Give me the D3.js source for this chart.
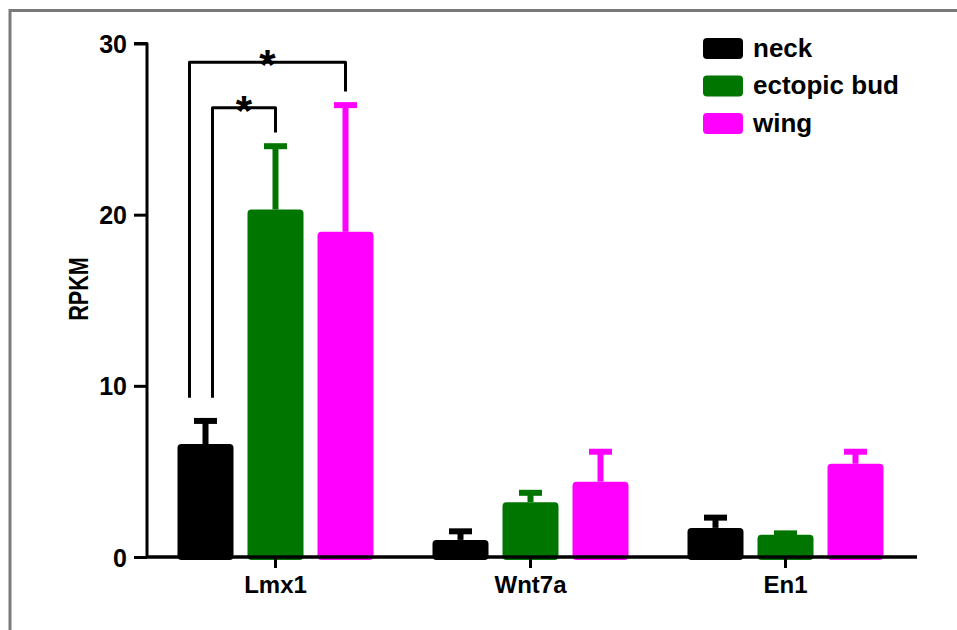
<!DOCTYPE html>
<html>
<head>
<meta charset="utf-8">
<script src="https://cdn.jsdelivr.net/npm/d3@7"></script>
<style>
  body { margin: 0; background: #fff; }
  text { font-family: "Liberation Sans", Arial, sans-serif; font-weight: bold; fill: #000; }
</style>
</head>
<body>
<svg id="chart" width="957" height="630"></svg>
<script>
// Genes on the x axis and the tissue groups compared for each one
const genes = ["Lmx1", "Wnt7a", "En1"];
const groups = ["neck", "ectopic bud", "wing"];
const groupColors = ["#000000", "#007500", "#ff00ff"];

// Mean RPKM and error (upper bar only) per group, in gene order
const neckMean = [6.6, 1.0, 1.7];
const neckErr = [1.35, 0.5, 0.6];
const budMean = [20.3, 3.2, 1.3];
const budErr = [3.7, 0.55, 0.08];
const wingMean = [19.0, 4.4, 5.45];
const wingErr = [7.4, 1.75, 0.7];

const yTicks = [0, 10, 20, 30];

// Significance brackets for Lmx1: neck vs. the listed group
const sigGene = ["Lmx1", "Lmx1"];
const sigTo = ["ectopic bud", "wing"];
const sigTop = [26.25, 28.9];
const sigRightEnd = [24.8, 27.2];
const sigLeftEnd = [9.3, 9.3];
const sigLabel = ["*", "*"];

const means = [neckMean, budMean, wingMean];
const errs = [neckErr, budErr, wingErr];

const svg = d3.select("#chart");

// outer frame
svg.append("path")
  .attr("d", "M10,630 V10.5 H957")
  .attr("fill", "none")
  .attr("stroke", "#7a7a7a")
  .attr("stroke-width", 3);

const axisX0 = 147, axisX1 = 917;
const y = d3.scaleLinear().domain([0, 30]).range([557, 43.5]);
const x = d3.scaleBand().domain(genes).range([148, 913]);
const xg = d3.scaleBand().domain(groups).range([-105, 105]).paddingInner(0.2).paddingOuter(0.1);

const barData = [];
genes.forEach((g, gi) => {
  groups.forEach((s, si) => {
    barData.push({ gene: g, group: s, color: groupColors[si], mean: means[si][gi], err: errs[si][gi] });
  });
});
const cx = d => x(d.gene) + x.bandwidth() / 2 + xg(d.group) + xg.bandwidth() / 2;

// error bars (upper side only)
const eb = svg.append("g");
eb.selectAll("line.stem").data(barData).join("line")
  .attr("x1", cx).attr("x2", cx)
  .attr("y1", d => y(d.mean)).attr("y2", d => y(d.mean + d.err))
  .attr("stroke", d => d.color).attr("stroke-width", 6);
eb.selectAll("line.cap").data(barData).join("line")
  .attr("x1", d => cx(d) - 11.5).attr("x2", d => cx(d) + 11.5)
  .attr("y1", d => y(d.mean + d.err)).attr("y2", d => y(d.mean + d.err))
  .attr("stroke", d => d.color).attr("stroke-width", 6)
  .attr("stroke-linecap", "butt");

// bars
svg.append("g").selectAll("rect").data(barData).join("rect")
  .attr("x", d => cx(d) - xg.bandwidth() / 2)
  .attr("width", xg.bandwidth())
  .attr("y", d => y(d.mean))
  .attr("height", d => y(0) - y(d.mean) + 3)
  .attr("rx", 4)
  .attr("fill", d => d.color);

// y axis
const yAxis = svg.append("g").attr("transform", `translate(${axisX0},0)`)
  .call(d3.axisLeft(y).tickValues(yTicks).tickSize(13).tickPadding(7).tickFormat(d3.format("d")));
yAxis.select(".domain").attr("d", `M-13,${y(30)}H0V${y(0)}`).attr("stroke-width", 3).attr("stroke-linejoin", "round");
yAxis.selectAll(".tick line").attr("stroke-width", 3);
yAxis.selectAll(".tick text").style("font-size", "25px").attr("dy", "0.36em");

// x axis
const xAxis = svg.append("g").attr("transform", `translate(0,${y(0)})`)
  .call(d3.axisBottom(x).tickSize(11).tickPadding(8));
xAxis.select(".domain").attr("d", `M${axisX0},0H${axisX1}`).attr("stroke-width", 3.5);
xAxis.selectAll(".tick line").attr("stroke-width", 3);
xAxis.selectAll(".tick text").style("font-size", "24px");

// y axis title
svg.append("text")
  .attr("transform", "translate(88,289) rotate(-90) scale(0.8,1)")
  .attr("text-anchor", "middle")
  .style("font-size", "27px")
  .text("RPKM");

// significance brackets
const legOffset = [7, -16];
sigTo.forEach((to, i) => {
  const gene = sigGene[i];
  const xl = cx({ gene, group: "neck" }) + legOffset[i];
  const xr = cx({ gene, group: to });
  svg.append("path")
    .attr("d", `M${xl},${y(sigLeftEnd[i])}V${y(sigTop[i])}H${xr}V${y(sigRightEnd[i])}`)
    .attr("fill", "none").attr("stroke", "#000").attr("stroke-width", 3)
    .attr("stroke-linejoin", "round");
  svg.append("text")
    .attr("x", (xl + xr) / 2).attr("y", y(sigTop[i]) + 17)
    .attr("text-anchor", "middle")
    .style("font-size", "42px")
    .text(sigLabel[i]);
});

// legend
const lg = svg.append("g").attr("transform", "translate(703,38)");
groups.forEach((g, i) => {
  lg.append("rect").attr("x", 0).attr("y", i * 37.5).attr("width", 40).attr("height", 21)
    .attr("rx", 4).attr("fill", groupColors[i]);
  lg.append("text").attr("x", 50).attr("y", i * 37.5 + 18.5)
    .style("font-size", "26px").text(g);
});
</script>
</body>
</html>
